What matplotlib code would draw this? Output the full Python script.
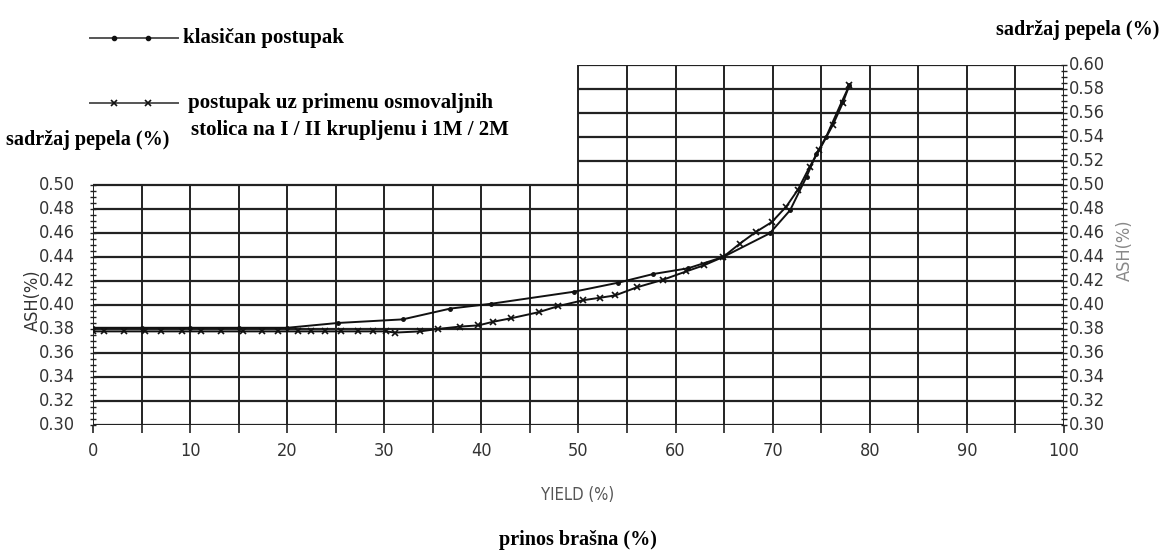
import matplotlib
matplotlib.use('Agg')
import matplotlib.pyplot as plt
import numpy as np

# klasičan postupak (tačke)
x_klas = [0, 5, 10, 15, 20, 25.2, 31.9, 36.8, 41.0, 49.5, 54.1, 57.7, 61.3, 64.9,
          69.7, 71.8, 73.5, 74.5, 75.5, 77.1, 77.9]
y_klas = [0.381, 0.381, 0.381, 0.381, 0.381, 0.385, 0.388, 0.397, 0.401, 0.411, 0.4186,
          0.4258, 0.4306, 0.440, 0.4597, 0.479, 0.507, 0.526, 0.540, 0.569, 0.583]

# postupak uz osmovaljne stolice (krstići)
x_osm = [0, 1.1, 3.2, 5.4, 7.0, 9.2, 11.1, 13.2, 15.4, 17.4, 19.1, 21.1, 22.5, 23.9,
         25.5, 27.3, 28.8, 30.2, 31.1, 33.7, 35.5, 37.8, 39.7, 41.2, 43.1, 45.9,
         47.9, 50.5, 52.2, 53.8, 56.0, 58.7, 61.1, 62.9, 64.9, 66.6, 68.3, 69.9,
         71.4, 72.6, 73.8, 74.8, 76.2, 77.2, 77.9]
y_osm = [0.378, 0.378, 0.378, 0.378, 0.378, 0.378, 0.378, 0.378, 0.378, 0.378, 0.378,
         0.378, 0.378, 0.378, 0.378, 0.378, 0.378, 0.378, 0.377, 0.378, 0.380, 0.382,
         0.383, 0.386, 0.389, 0.394, 0.399, 0.404, 0.406, 0.408, 0.4147, 0.421,
         0.428, 0.433, 0.440, 0.451, 0.461, 0.469, 0.482, 0.496, 0.515, 0.529,
         0.550, 0.568, 0.583]

x_ticks = np.arange(0, 101, 10)
y_left = np.arange(0.30, 0.501, 0.02)
y_right = np.arange(0.30, 0.601, 0.02)

tick_kw = dict(family='DejaVu Sans', stretch='condensed', color='#333333')
text_font = ['Liberation Serif', 'DejaVu Serif']
gcol = '#222222'

fig = plt.figure(figsize=(11.61, 5.52), dpi=100)
ax = fig.add_axes([0.0801, 0.2301, 0.8363, 0.6522])
ax.set_xlim(0, 100)
ax.set_ylim(0.30, 0.60)
for s in ax.spines.values():
    s.set_visible(False)

# mreža: lijevo od 50 samo do 0.50
for yv in y_right:
    if yv <= 0.5001:
        ax.hlines(yv, 0, 100, color=gcol, lw=1.6, zorder=1)
    else:
        ax.hlines(yv, 50, 100, color=gcol, lw=1.6, zorder=1)
for xv in np.arange(0, 101, 5):
    top = 0.50 if xv < 50 else 0.60
    ax.vlines(xv, 0.30, top, color=gcol, lw=1.4, zorder=1)

# sitne crtice na ivicama
ax.plot(np.zeros(41), np.linspace(0.30, 0.50, 41), ls='none', marker='_', ms=4,
        color=gcol, clip_on=False)
ax.plot(np.full(61, 100), np.linspace(0.30, 0.60, 61), ls='none', marker='_', ms=4,
        color=gcol, clip_on=False)

ax.plot(x_klas, y_klas, color='#111111', lw=1.4, marker='.', ms=5, zorder=3)
ax.plot(x_osm, y_osm, color='#111111', lw=1.4, marker='x', ms=4, mew=1.2, zorder=3)

ax.set_xticks(x_ticks)
ax.set_xticks(np.arange(0, 101, 5), minor=True)
ax.set_xticklabels([str(v) for v in x_ticks], fontsize=13, **tick_kw)
ax.tick_params(axis='x', which='both', length=6, width=1.2, color=gcol, pad=6)
ax.set_yticks([])

for yv in y_left:
    ax.text(-1.9, yv, '%.2f' % yv, ha='right', va='center', fontsize=13, **tick_kw)
for yv in y_right:
    ax.text(100.5, yv, '%.2f' % yv, ha='left', va='center', fontsize=13, **tick_kw)

fig.text(33 / 1161, 1 - 300 / 552, 'ASH(%)', rotation=90, ha='center', va='center',
         fontsize=13, **tick_kw)
fig.text(1125 / 1161, 1 - 250 / 552, 'ASH(%)', rotation=90, ha='center', va='center',
         fontsize=13, family='DejaVu Sans', stretch='condensed', color='#888888')
fig.text(578 / 1161, 1 - 495 / 552, 'YIELD (%)', ha='center', va='center',
         fontsize=12, family='DejaVu Sans', stretch='condensed', color='#555555')

fig.text(578 / 1161, 1 - 540 / 552, 'prinos brašna (%)', ha='center', va='center',
         family=text_font, fontsize=14.5, weight='bold')
fig.text(88 / 1161, 1 - 140 / 552, 'sadržaj pepela (%)', ha='center', va='center',
         family=text_font, fontsize=14.5, weight='bold')
fig.text(1078 / 1161, 1 - 30 / 552, 'sadržaj pepela (%)', ha='center', va='center',
         family=text_font, fontsize=14.5, weight='bold')

# legenda
leg = fig.add_axes([0, 0, 1, 1], facecolor='none')
leg.set_xlim(0, 1161)
leg.set_ylim(552, 0)
leg.axis('off')
leg.plot([90, 178], [38, 38], color='#555555', lw=1.4)
leg.plot([114, 148], [38, 38], ls='none', marker='.', ms=6, color='#111111')
leg.plot([90, 178], [103, 103], color='#555555', lw=1.4)
leg.plot([114, 148], [103, 103], ls='none', marker='x', ms=4, mew=1.2, color='#111111')
leg.text(183, 38, 'klasičan postupak', va='center', family=text_font, fontsize=15, weight='bold')
leg.text(188, 103, 'postupak uz primenu osmovaljnih', va='center', family=text_font,
         fontsize=15, weight='bold')
leg.text(191, 130, 'stolica na I / II krupljenu i 1M / 2M', va='center', family=text_font,
         fontsize=15, weight='bold')

fig.savefig('out.png', dpi=100)
